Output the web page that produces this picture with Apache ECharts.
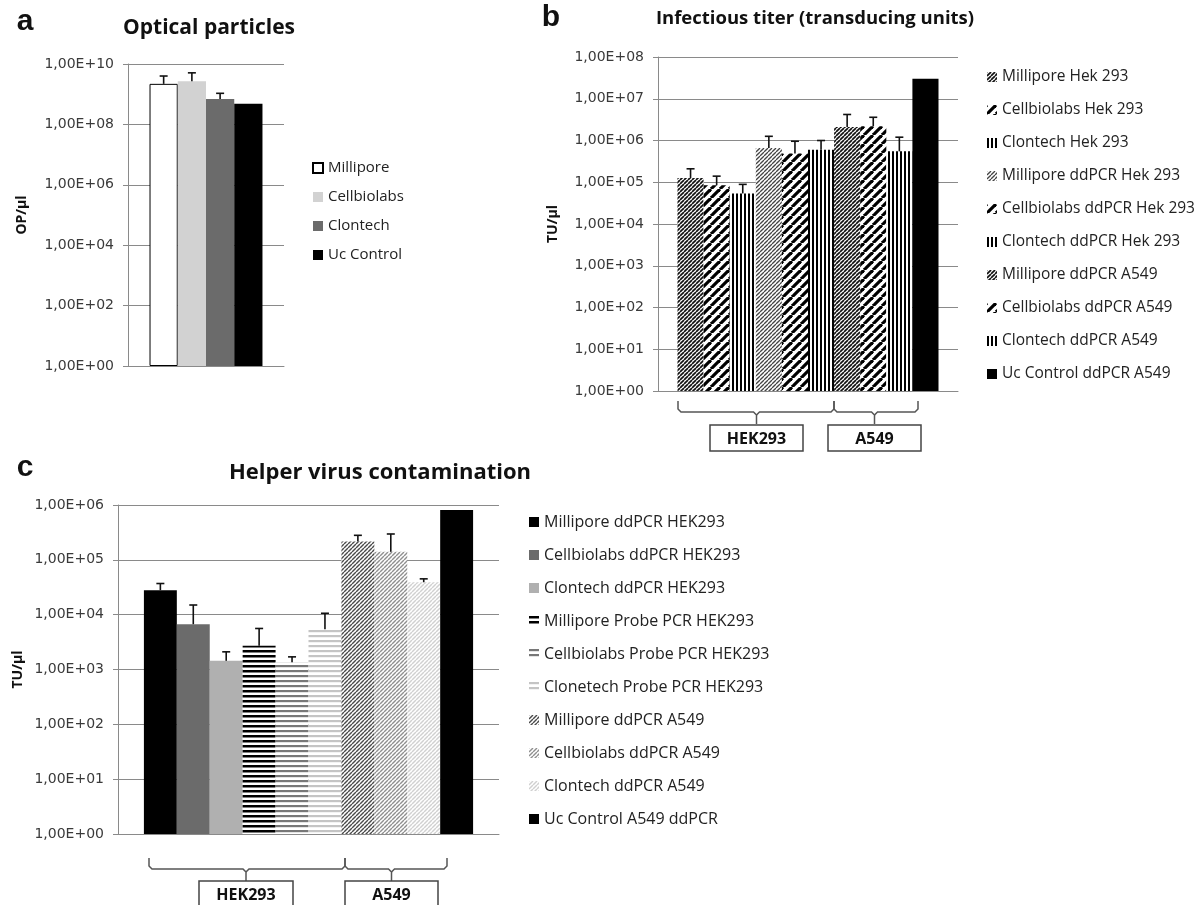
<!DOCTYPE html>
<html>
<head>
<meta charset="utf-8">
<script src="https://cdn.jsdelivr.net/npm/echarts@6/dist/echarts.min.js"></script>
<style>
  html, body { margin: 0; padding: 0; background: #fff; }
  #main { width: 1203px; height: 905px; }
</style>
</head>
<body>
<div id="main"></div>
<script>
// ---- data ----
// a: optical particles (OP/µl)
const aNames = ['Millipore', 'Cellbiolabs', 'Clontech', 'Uc Control'];
const aValues = [2.2e9, 2.7e9, 6.9e8, 4.8e8];
const aErrTop = [4.0e9, 5.1e9, 1.07e9, null];

// b: infectious titer (TU/µl)
const bNames = ['Millipore Hek 293', 'Cellbiolabs Hek 293', 'Clontech Hek 293',
  'Millipore ddPCR Hek 293', 'Cellbiolabs ddPCR Hek 293', 'Clontech ddPCR Hek 293',
  'Millipore ddPCR A549', 'Cellbiolabs ddPCR A549', 'Clontech ddPCR A549', 'Uc Control ddPCR A549'];
const bValues = [1.26e5, 8.5e4, 5.4e4, 6.6e5, 4.9e5, 6.0e5, 2.1e6, 2.2e6, 5.5e5, 3.0e7];
const bErrTop = [2.1e5, 1.4e5, 8.9e4, 1.26e6, 9.6e5, 1.0e6, 4.2e6, 3.6e6, 1.2e6, null];

// c: helper virus contamination (TU/µl)
// trailing space keeps names apart from panel b's legend entries
const cNames = ['Millipore ddPCR HEK293', 'Cellbiolabs ddPCR HEK293', 'Clontech ddPCR HEK293',
  'Millipore Probe PCR HEK293', 'Cellbiolabs Probe PCR HEK293', 'Clonetech Probe PCR HEK293',
  'Millipore ddPCR A549 ', 'Cellbiolabs ddPCR A549 ', 'Clontech ddPCR A549 ', 'Uc Control A549 ddPCR'];
const cValues = [2.8e4, 6.7e3, 1.44e3, 2.7e3, 1.35e3, 5.4e3, 2.15e5, 1.4e5, 3.9e4, 8.1e5];
const cErrTop = [3.7e4, 1.5e4, 2.1e3, 5.6e3, 1.7e3, 1.06e4, 2.8e5, 2.96e5, 4.5e4, null];

const groupLabels = ['HEK293', 'A549'];

// ---- fills ----
function hatch(kind, fg, bg, period, lw) {
  const c = document.createElement('canvas');
  c.width = c.height = period;
  const g = c.getContext('2d');
  g.fillStyle = bg;
  g.fillRect(0, 0, period, period);
  g.strokeStyle = fg;
  g.fillStyle = fg;
  g.lineWidth = lw;
  if (kind === 'diag') {
    [-period, 0, period].forEach(k => {
      g.beginPath(); g.moveTo(k, period); g.lineTo(k + period, 0); g.stroke();
    });
  } else if (kind === 'vert') {
    g.fillRect(0, 0, lw, period);
  } else {
    g.fillRect(0, 0, period, lw);
  }
  return { image: c, repeat: 'repeat' };
}

const aFills = ['#ffffff', '#d2d2d2', '#6b6b6b', '#000000'];
const bFills = [
  hatch('diag', '#111', '#fff', 4, 1.7), hatch('diag', '#000', '#fff', 9, 3.2), hatch('vert', '#000', '#fff', 4, 2),
  hatch('diag', '#444', '#fff', 4, 1.3), hatch('diag', '#000', '#fff', 9, 3.2), hatch('vert', '#000', '#fff', 4, 2),
  hatch('diag', '#111', '#fff', 4, 1.7), hatch('diag', '#000', '#fff', 9, 3.2), hatch('vert', '#000', '#fff', 4, 2),
  '#000000'
];
const cFills = [
  '#000000', '#6b6b6b', '#b0b0b0',
  hatch('horiz', '#000', '#fff', 5, 2.5), hatch('horiz', '#777', '#fff', 5, 2.2), hatch('horiz', '#c4c4c4', '#fff', 5, 2.2),
  hatch('diag', '#4a4a4a', '#fff', 4, 1.4), hatch('diag', '#8f8f8f', '#fff', 4, 1.4), hatch('diag', '#d0d0d0', '#fff', 4, 1.4),
  '#000000'
];

// ---- helpers ----
function expLabel(v) {
  const e = Math.round(Math.log10(v));
  return '1,00E+' + (e < 10 ? '0' : '') + e;
}

const lineGrey = '#8a8a8a';

function yAxis(idx, base, max, split, name, gap) {
  return {
    type: 'log', gridIndex: idx, logBase: base, min: 1, max: max, splitNumber: split,
    axisLine: { show: true, lineStyle: { color: lineGrey, width: 1 } },
    axisTick: { show: true, length: 5, lineStyle: { color: lineGrey } },
    splitLine: { show: true, lineStyle: { color: lineGrey, width: 1 } },
    minorTick: { show: false },
    axisLabel: { formatter: expLabel, fontFamily: 'DejaVu Sans', fontSize: 14, color: '#3a3a3a', margin: 14 },
    name: name, nameLocation: 'middle', nameRotate: 90, nameGap: gap,
    nameTextStyle: { fontFamily: 'Open Sans', fontWeight: 'bold', fontSize: 14, color: '#111' }
  };
}

function xAxis(idx) {
  return {
    type: 'category', gridIndex: idx, data: [''],
    axisLine: { show: true, lineStyle: { color: lineGrey, width: 1 } },
    axisTick: { show: false }, axisLabel: { show: false }, splitLine: { show: false }
  };
}

function barSeries(idx, names, values, fills, gap, border) {
  return names.map((n, i) => ({
    type: 'bar', name: n, xAxisIndex: idx, yAxisIndex: idx,
    barGap: '0%', barCategoryGap: gap,
    itemStyle: Object.assign({ color: fills[i] }, border && i === 0 ? { borderColor: '#000', borderWidth: 1 } : {}),
    data: [values[i]]
  }));
}

function errSeries(idx, values, errTop, gap) {
  const n = values.length;
  const data = [];
  values.forEach((v, i) => { if (errTop[i] != null) data.push([0, i, v, errTop[i]]); });
  return {
    type: 'custom', name: 'err' + idx, xAxisIndex: idx, yAxisIndex: idx, z: 5,
    encode: { x: 0, y: 3 },
    data: data,
    renderItem: function (params, api) {
      const i = api.value(1);
      const pBar = api.coord([0, api.value(2)]);
      const pErr = api.coord([0, api.value(3)]);
      const band = api.size([0, 10], [0, 10])[0];
      const total = band * (1 - gap);
      const x = pBar[0] - total / 2 + (i + 0.5) * total / n;
      const st = { stroke: '#111', lineWidth: 1.6 };
      return {
        type: 'group', children: [
          { type: 'line', shape: { x1: x, y1: pBar[1], x2: x, y2: pErr[1] }, style: st },
          { type: 'line', shape: { x1: x - 4, y1: pErr[1], x2: x + 4, y2: pErr[1] }, style: st }
        ]
      };
    }
  };
}

function legend(names, left, top, gap, size) {
  return {
    data: names, orient: 'vertical', left: left, top: top, itemGap: gap, padding: 0,
    itemWidth: 10, itemHeight: 10, icon: 'rect', selectedMode: false,
    textStyle: { fontFamily: 'Open Sans', fontSize: size, color: '#222', lineHeight: 16 }
  };
}

// bracket under a group of bars, with a label box
function bracket(x1, x2, yTop, yMid, yStem, label, bx1, bx2, by1, by2) {
  const xm = (bx1 + bx2) / 2;
  const st = { stroke: '#555', lineWidth: 1.5, fill: null };
  return [
    { type: 'polyline', shape: { points: [[x1, yTop], [x1, yMid - 3], [x1 + 3, yMid], [xm - 3, yMid], [xm, yMid + 3], [xm, yStem]] }, style: st },
    { type: 'polyline', shape: { points: [[xm, yMid + 3], [xm + 3, yMid], [x2 - 3, yMid], [x2, yMid - 3], [x2, yTop]] }, style: st },
    { type: 'rect', shape: { x: bx1, y: by1, width: bx2 - bx1, height: by2 - by1 }, style: { stroke: '#444', lineWidth: 1.5, fill: '#fff' } },
    { type: 'text', x: xm, y: (by1 + by2) / 2 + 1, style: { text: label, fontFamily: 'Open Sans', fontWeight: 'bold', fontSize: 16, fill: '#111', align: 'center', verticalAlign: 'middle' } }
  ];
}

function txt(x, y, s, size, family, extra) {
  return Object.assign({
    type: 'text', x: x, y: y,
    style: { text: s, fontFamily: family, fontWeight: 'bold', fontSize: size, fill: '#111', align: 'center', verticalAlign: 'middle' }
  }, extra || {});
}

const gapA = 0.276, gapB = 0.13, gapC = 0.136;

const option = {
  animation: false,
  backgroundColor: '#fff',
  grid: [
    { left: 128, top: 64, width: 156, height: 302 },
    { left: 658, top: 57, width: 300, height: 334 },
    { left: 118, top: 505, width: 381, height: 329 }
  ],
  xAxis: [xAxis(0), xAxis(1), xAxis(2)],
  yAxis: [
    yAxis(0, 100, 1e10, 5, 'OP/µl', 99),
    yAxis(1, 10, 1e8, 8, 'TU/µl', 98),
    yAxis(2, 10, 1e6, 6, 'TU/µl', 93)
  ],
  legend: [
    legend(aNames, 312, 160, 13, 15),
    legend(bNames, 987, 69, 17, 15.5),
    legend(cNames, 529, 514, 17, 16)
  ],
  series: [].concat(
    barSeries(0, aNames, aValues, aFills, (gapA * 100) + '%', true),
    [errSeries(0, aValues, aErrTop, gapA)],
    barSeries(1, bNames, bValues, bFills, (gapB * 100) + '%', false),
    [errSeries(1, bValues, bErrTop, gapB)],
    barSeries(2, cNames, cValues, cFills, (gapC * 100) + '%', false),
    [errSeries(2, cValues, cErrTop, gapC)]
  ),
  graphic: [].concat(
    [
      txt(25, 22, 'a', 30, 'Liberation Sans'),
      txt(551, 18, 'b', 30, 'Liberation Sans'),
      txt(25, 468, 'c', 30, 'Liberation Sans'),
      txt(209, 28, 'Optical particles', 21, 'Open Sans'),
      txt(815, 19, 'Infectious titer (transducing units)', 18.5, 'Open Sans'),
      txt(380, 473, 'Helper virus contamination', 22, 'Open Sans')
    ],
    bracket(678, 834, 401, 412, 424, groupLabels[0], 710, 803, 425, 451),
    bracket(834, 918, 401, 412, 424, groupLabels[1], 828, 921, 425, 451),
    bracket(149, 345, 858, 869, 881, groupLabels[0], 199, 293, 881, 908),
    bracket(345, 447, 858, 869, 881, groupLabels[1], 345, 438, 881, 908)
  )
};

const chart = echarts.init(document.getElementById('main'), null, { renderer: 'canvas' });
chart.setOption(option);
</script>
</body>
</html>
